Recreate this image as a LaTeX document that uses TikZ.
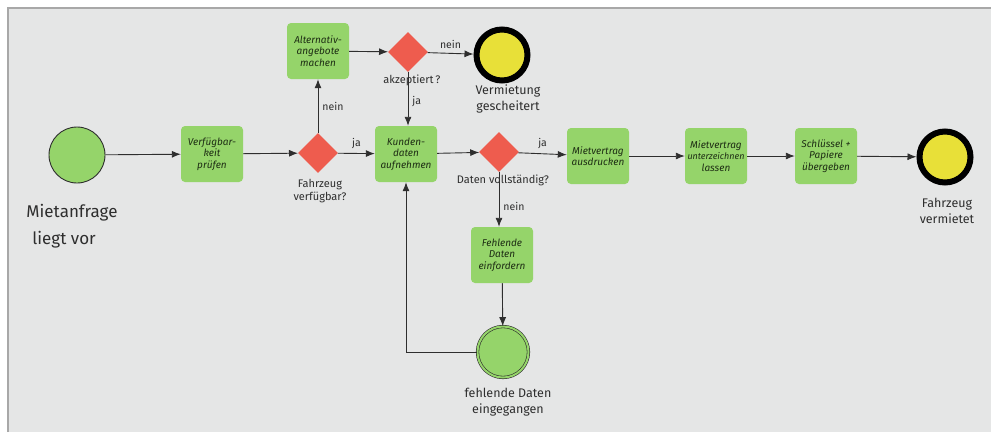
\documentclass[tikz,border=0pt]{standalone}
\usepackage{fontspec}
\setmainfont{Fira Sans}
\usetikzlibrary{shapes.geometric,arrows.meta}
\definecolor{bg}{HTML}{E5E6E6}
\definecolor{frame}{HTML}{A8A8A8}
\definecolor{note}{HTML}{95D46A}
\definecolor{gw}{HTML}{EE5C4E}
\definecolor{ev}{HTML}{E8E038}
\definecolor{ink}{HTML}{2E2E2E}
\definecolor{notetext}{HTML}{1E2E14}
\begin{document}
\begin{tikzpicture}[x=1pt,y=-1pt,
  task/.style={rectangle,rounded corners=4pt,fill=note,minimum width=62pt,minimum height=56pt,
    align=center,font=\fontsize{10}{11.5}\selectfont\itshape,text=notetext,inner sep=1pt},
  gate/.style={diamond,fill=gw,minimum width=40pt,minimum height=40pt,inner sep=0pt},
  startev/.style={circle,fill=note,draw=ink,line width=0.9pt,minimum size=56pt,inner sep=0pt},
  endev/.style={circle,fill=ev,draw=black,line width=6pt,minimum size=51pt,inner sep=0pt},
  midev/.style={circle,fill=note,draw=ink,double=note,double distance=2pt,line width=0.6pt,minimum size=51pt,inner sep=0pt},
  flow/.style={draw=ink,line width=0.9pt,-{Latex[length=9pt,width=7pt]}},
  lab/.style={font=\fontsize{10.5}{12}\selectfont,text=ink,inner sep=1pt},
  midlab/.style={font=\fontsize{11}{13}\selectfont,text=ink,align=center,inner sep=1pt},
  biglab/.style={font=\fontsize{12.5}{16}\selectfont,text=ink,align=center,inner sep=1pt},
  hugelab/.style={font=\fontsize{17}{27}\selectfont,text=ink,align=left,inner sep=1pt},
]
\useasboundingbox (0,0) rectangle (991,432);
\fill[white] (0,0) rectangle (991,432);
\fill[bg] (8,8) rectangle (991,432);
\draw[frame,line width=2pt] (8,432) -- (8,8) -- (991,8);

% nodes
\node[startev] (start) at (77,155) {};
\node[task] (verf) at (212,154) {Verfügbar-\\keit\\prüfen};
\node[gate] (g1) at (318,153) {};
\node[task] (alt) at (318,51) {Alternativ-\\angebote\\machen};
\node[gate] (g2) at (408,52) {};
\node[endev] (fail) at (502,55) {};
\node[task] (kund) at (406,154) {Kunden-\\daten\\aufnehmen};
\node[gate] (g3) at (499,152) {};
\node[task] (druck) at (598,156) {Mietvertrag\\ausdrucken};
\node[task] (unter) at (716,156) {Mietvertrag\\{\fontsize{9}{11.5}\selectfont unterzeichnen}\\lassen};
\node[task] (schl) at (826,156) {Schlüssel +\\Papiere\\übergeben};
\node[endev] (done) at (945,157) {};
\node[task] (fehl) at (502,255) {Fehlende\\Daten\\einfordern};
\node[midev] (einge) at (503,352) {};

% event labels
\node[hugelab] (l1) at (72,226) {Mietanfrage\\\hspace*{6pt}liegt vor};
\node[midlab] (l2) at (320,191) {Fahrzeug\\verfügbar?};
\node[midlab] (l3) at (412,80) {akzeptiert\,?};
\node[biglab] (l4) at (508,99) {Vermietung\\gescheitert};
\node[midlab] (l5) at (503,180) {Daten vollständig?};
\node[biglab] (l6) at (947,211) {Fahrzeug\\vermietet};
\node[biglab] (l7) at (508,402) {fehlende Daten\\eingegangen};

% flows
\draw[flow] (start) -- (verf);
\draw[flow] (verf) -- (g1);
\draw[flow] (g1) -- node[lab,above=3pt] (ja1) {ja} (kund);
\draw[flow] (g1) -- node[lab,right=3pt] (nein1) {nein} (alt);
\draw[flow] (alt) -- (g2);
\draw[flow] (g2) -- node[lab,above=3pt] (nein2) {nein} (fail);
\draw[flow] (g2) -- node[lab,right=3pt,pos=0.55] (ja2) {ja} (kund.north -| g2);
\draw[flow] (kund) -- (g3);
\draw[flow] (g3) -- node[lab,above=4pt] (ja3) {ja} (druck);
\draw[flow] (g3) -- node[lab,right=3pt,pos=0.62] (nein3) {nein} (fehl.north -| g3);
\draw[flow] (druck) -- (unter);
\draw[flow] (unter) -- (schl);
\draw[flow] (schl) -- (done);
\draw[flow] (fehl) -- (einge);
\draw[flow] (einge.west) -| (kund.south);
\end{tikzpicture}
\end{document}
